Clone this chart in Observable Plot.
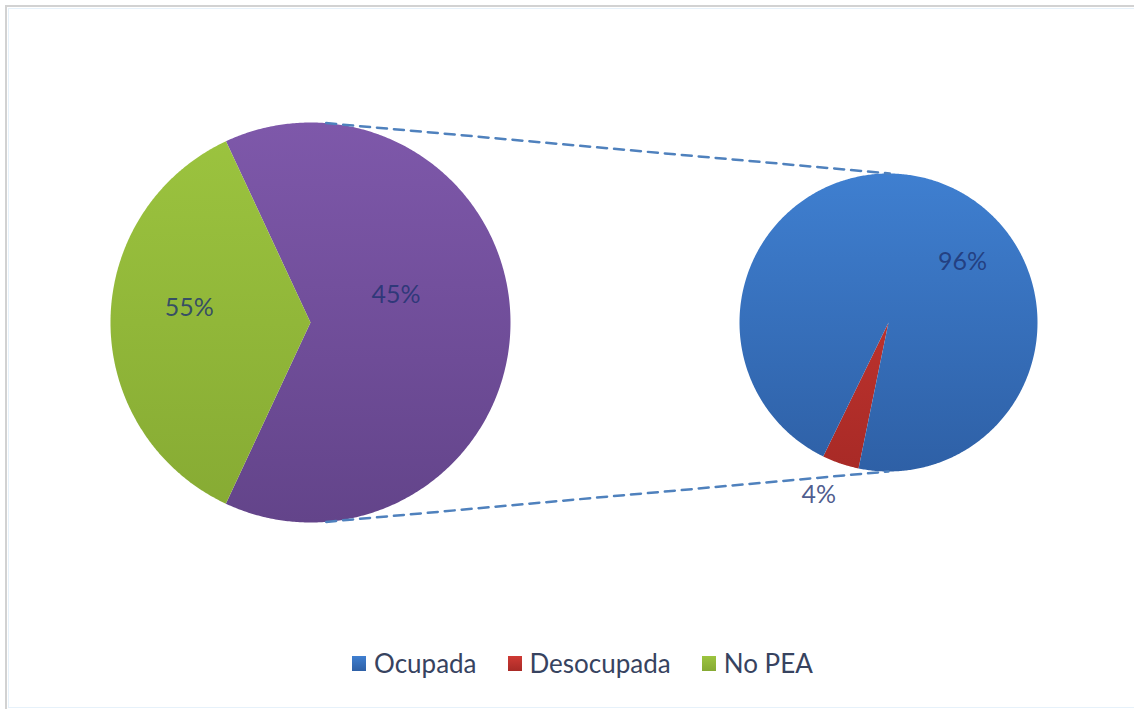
<!DOCTYPE html>
<html>
<head>
<meta charset="utf-8">
<script src="https://cdn.jsdelivr.net/npm/d3@7"></script>
<script src="https://cdn.jsdelivr.net/npm/@observablehq/plot@0.6"></script>
<style>
  body { margin: 0; background: #fff; overflow: hidden; }
  #wrap { position: relative; width: 1134px; height: 709px; overflow: hidden; font-family: Lato, "Liberation Sans", sans-serif; background: #fff; }
  #frame { position: absolute; left: 5px; top: 5px; width: 1140px; height: 720px; border-top: 2px solid #d2d2d2; border-left: 2px solid #d2d2d2; }
  #inner { position: absolute; left: 8px; top: 8px; width: 1140px; height: 698px; border-top: 1px solid #e6f1fa; border-left: 1px solid #e6f1fa; border-bottom: 1px solid #e6f1fa; }
  #chart { position: absolute; left: 0; top: 0; }
  #legend { position: absolute; left: 352px; top: 647px; display: flex; align-items: center; font-size: 26px; color: #37435f; white-space: nowrap; }
  .item { display: flex; align-items: center; margin-right: 31px; }
  .sw { width: 14px; height: 15px; margin-right: 8px; }
</style>
</head>
<body>
<div id="wrap">
  <div id="frame"></div>
  <div id="inner"></div>
  <div id="chart"></div>
  <div id="legend"></div>
</div>
<script>
// ---- Data ----
// Main pie: "PEA" (the grouped slice, broken out in the secondary pie) and "No PEA".
// Wedge sizes as drawn in the reference; the printed labels are kept as shown.
const mainCategories = ["PEA", "No PEA"];
const mainShares = [63.9, 36.1];
const mainLabels = ["45%", "55%"];

// Secondary pie: breakdown of PEA
const subCategories = ["Desocupada", "Ocupada"];
const subShares = [4, 96];
const subLabels = ["4%", "96%"];

// Legend
const legendCategories = ["Ocupada", "Desocupada", "No PEA"];

// ---- Styling / layout ----
const gradients = {
  "Ocupada": ["#3f7fd0", "#2e60a6"],
  "Desocupada": ["#cf3a34", "#a82a26"],
  "No PEA": ["#9cc43f", "#86aa33"],
  "PEA": ["#7e58aa", "#63448a"]
};
const W = 1134, H = 640;
const mainPie = {cx: 310, cy: 322, r: 200, start: -25};
const subPie = {cx: 888, cy: 322, r: 149, start: 191.6};
// label placement (angle in degrees clockwise from 12 o'clock, radius fraction)
const mainLabelPos = [{a: 72, f: 0.45}, {a: 276.6, f: 0.61}];
const subLabelPos = [{a: 202, f: 1.25}, {a: 51, f: 0.64}];

const rad = d => d * Math.PI / 180;
function pt(p, a, f = 1) {
  return {x: p.cx + p.r * f * Math.sin(rad(a)), y: p.cy - p.r * f * Math.cos(rad(a))};
}
function slices(p, cats, shares) {
  const total = d3.sum(shares);
  let a0 = p.start;
  return cats.map((c, i) => {
    const a1 = a0 + shares[i] / total * 360;
    const pts = [{x: p.cx, y: p.cy}];
    const n = Math.max(2, Math.ceil(a1 - a0) * 2);
    for (let k = 0; k <= n; k++) pts.push(pt(p, a0 + (a1 - a0) * k / n));
    pts.push({x: p.cx, y: p.cy});
    const s = {cat: c, a0, a1, pts, p};
    a0 = a1;
    return s;
  });
}
const mainSlices = slices(mainPie, mainCategories, mainShares);
const subSlices = slices(subPie, subCategories, subShares);

const gid = c => "grad-" + c.replace(/\s+/g, "");

const labelData = [
  ...mainLabels.map((t, i) => ({t, ...pt(mainPie, mainLabelPos[i].a, mainLabelPos[i].f)})),
  ...subLabels.map((t, i) => ({t, ...pt(subPie, subLabelPos[i].a, subLabelPos[i].f)}))
];

// connector lines from the edge of the PEA slice to the top/bottom of the secondary pie
const connectors = [
  {id: "top", pts: [pt(mainPie, 4.5), pt(subPie, 0.5)]},
  {id: "bottom", pts: [pt(mainPie, 175.5), pt(subPie, 180)]}
].flatMap(c => c.pts.map(q => ({...q, id: c.id})));

const marks = [];
for (const s of [...mainSlices, ...subSlices]) {
  marks.push(Plot.line(s.pts, {x: "x", y: "y", fill: `url(#${gid(s.cat)})`, stroke: "none", curve: "linear"}));
}
marks.push(Plot.line(connectors, {x: "x", y: "y", z: "id", stroke: "#4f81bd", strokeWidth: 2.5, strokeDasharray: "10,7"}));
marks.push(Plot.text(labelData, {x: "x", y: "y", text: "t", fontSize: 25, fill: "#1d3270", fillOpacity: 0.8, fontFamily: "Lato, 'Liberation Sans', sans-serif"}));

const chart = Plot.plot({
  width: W, height: H,
  margin: 0,
  x: {domain: [0, W], range: [0, W], axis: null},
  y: {domain: [0, H], range: [0, H], axis: null},
  style: {background: "transparent", overflow: "visible"},
  marks
});

// gradients (userSpace so a whole pie shades top-to-bottom)
const defs = d3.select(chart).insert("defs", ":first-child");
for (const s of [...mainSlices, ...subSlices]) {
  const g = defs.append("linearGradient").attr("id", gid(s.cat))
    .attr("gradientUnits", "userSpaceOnUse")
    .attr("x1", 0).attr("x2", 0)
    .attr("y1", s.p.cy - s.p.r).attr("y2", s.p.cy + s.p.r);
  g.append("stop").attr("offset", "0%").attr("stop-color", gradients[s.cat][0]);
  g.append("stop").attr("offset", "100%").attr("stop-color", gradients[s.cat][1]);
}
document.getElementById("chart").append(chart);

// legend
const legend = d3.select("#legend");
legendCategories.forEach((c, i) => {
  const it = legend.append("div").attr("class", "item");
  if (i === legendCategories.length - 1) it.style("margin-right", "0");
  it.append("div").attr("class", "sw").style("background", `linear-gradient(${gradients[c][0]}, ${gradients[c][1]})`);
  it.append("span").text(c);
});
</script>
</body>
</html>
